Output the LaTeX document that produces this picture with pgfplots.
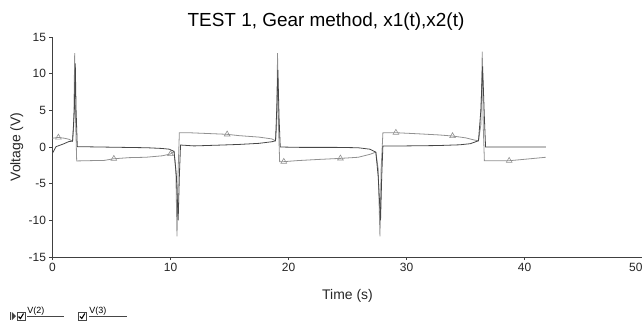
\documentclass[border=0pt]{standalone}
\usepackage{fontspec}
\setmainfont{Liberation Sans}
\usepackage{pgfplots}
\pgfplotsset{compat=1.18}
\definecolor{lightser}{RGB}{145,145,145}
\definecolor{darkser}{RGB}{70,70,70}
\begin{document}
\begin{tikzpicture}[x=1bp,y=1bp]
\begin{axis}[
  at={(0,0)}, anchor=south west, scale only axis,
  width=590bp, height=220bp,
  xmin=0, xmax=50, ymin=-15, ymax=15,
  axis lines=left,
  axis line style={-, line width=0.8bp, draw=black!75},
  xtick={0,10,20,30,40,50}, ytick={-15,-10,-5,0,5,10,15},
  xticklabels={0,10,20,30,40,\llap{50}\hspace{3bp}},
  tick align=outside, major tick length=3bp,
  tick style={line width=0.6bp, draw=black!75},
  tick label style={font=\fontsize{12}{12}\selectfont, text=black!85},
  /pgf/number format/assume math mode=true,
  xlabel={Time (s)}, ylabel={Voltage (V)},
  xlabel style={font=\fontsize{14}{14}\selectfont, text=black!85, at={(axis description cs:0.5,0)}, anchor=base, yshift=-42bp},
  ylabel style={font=\fontsize{14}{14}\selectfont, text=black!85, at={(axis description cs:-0.0545,0.5)}, anchor=base},
]
% light series (with triangles)
\addplot[lightser, line width=0.8bp] coordinates {
(0,1.2) (0.5,1.3) (1.0,1.2) (1.4,1.05) (1.7,0.8) (1.8,3) (1.88,12.8) (1.95,4) (2.05,-1.9) (3.5,-1.85) (4.3,-1.85) (5.2,-1.6) (6.5,-1.45) (7.9,-1.4) (9.3,-1.2) (10.0,-0.95) (10.3,-0.6) (10.45,-3) (10.55,-12.2) (10.65,-3) (10.75,1.95) (11.5,1.95) (13,1.85) (14.8,1.73) (15.8,1.55) (17.5,1.35) (18.6,1.1) (18.9,0.85) (19.0,3) (19.07,12.8) (19.15,3) (19.25,-2.0) (19.6,-2.0) (20.8,-1.85) (22.5,-1.7) (24.4,-1.55) (25.9,-1.4) (26.9,-1.0) (27.4,-0.7) (27.6,-3) (27.75,-12.2) (27.85,-3) (28.0,1.95) (29.1,1.95) (31,1.8) (32.7,1.65) (33.9,1.5) (35.0,1.25) (35.75,0.95) (36.1,0.85) (36.3,3) (36.42,13) (36.5,3) (36.6,-1.87) (38.7,-1.87) (40.5,-1.6) (41.8,-1.4)
};
% dark series
\addplot[darkser, line width=0.8bp] coordinates {
(0,-0.85) (0.15,-0.4) (0.3,0.05) (0.9,0.4) (1.4,0.75) (1.7,0.8) (1.85,5) (1.93,11.4) (2.0,5) (2.1,0.05) (4,0) (6,-0.05) (8,-0.1) (9.3,-0.2) (9.9,-0.3) (10.3,-0.6) (10.5,-4) (10.65,-10) (10.75,-4) (10.85,0.27) (12,0.15) (14,0.25) (15.8,0.35) (17.5,0.5) (18.6,0.72) (18.9,0.85) (19.0,5) (19.1,10.5) (19.2,4) (19.3,0) (21,-0.05) (24,-0.05) (25.9,-0.1) (26.9,-0.3) (27.4,-0.7) (27.6,-4) (27.8,-10) (27.9,-4) (28.0,0.15) (30,0.15) (32.7,0.2) (34.5,0.3) (35.4,0.45) (36.1,0.85) (36.3,5) (36.45,11) (36.6,4) (36.7,0) (38,0) (41.8,0)
};
% triangle markers on the light series
\addplot[only marks, mark=triangle, mark size=3.3bp, lightser, mark options={fill=white, line width=0.6bp}] coordinates {
(0.5,1.3) (5.2,-1.6) (10.0,-0.95) (14.8,1.73) (19.6,-2.0) (24.4,-1.55) (29.1,1.95) (33.9,1.5) (38.7,-1.87)
};
\end{axis}
% title
\node[anchor=base, font=\fontsize{19}{19}\selectfont, text=black] at (273.5,230.3) {TEST 1, Gear method, x1(t),x2(t)};
% legend-like strip at bottom left
\fill[darkser] (-42.5,-63) rectangle (-41.5,-55);
\fill[darkser] (-40.5,-63) -- (-36.5,-59) -- (-40.5,-55) -- cycle;
\draw[darkser, line width=0.8bp] (-35.5,-63) rectangle (-27.5,-55);
\draw[black, line width=1.1bp] (-34,-59.5) -- (-32,-61.5) -- (-29,-56.5);
\node[anchor=base west, inner sep=0pt, font=\fontsize{9}{9}\selectfont] at (-25.2,-56.3) {V(2)};
\draw[darkser, line width=0.6bp] (-25.2,-59.7) -- (11.5,-59.7);
\draw[darkser, line width=0.8bp] (25.8,-63) rectangle (33.8,-55);
\draw[black, line width=1.1bp] (27.3,-59.5) -- (29.3,-61.5) -- (32.3,-56.5);
\node[anchor=base west, inner sep=0pt, font=\fontsize{9}{9}\selectfont] at (36.8,-56.3) {V(3)};
\draw[darkser, line width=0.6bp] (36.8,-59.7) -- (74.2,-59.7);
\pgfresetboundingbox
\useasboundingbox (-52.5,-70) rectangle (589.5,257);
\end{tikzpicture}
\end{document}
